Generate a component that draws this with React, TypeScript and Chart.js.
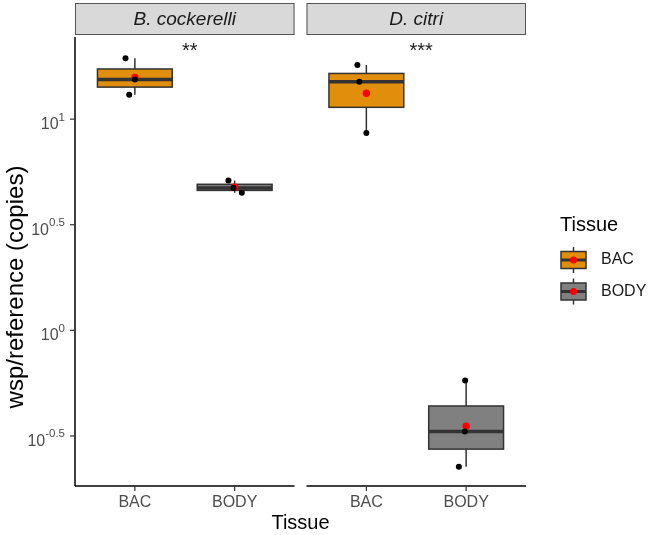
import React, { useEffect, useRef } from "react";
import { Chart, registerables } from "chart.js";

Chart.register(...registerables);

// ---- data ----
const panels = ["B. cockerelli", "D. citri"];
const tissues = ["BAC", "BODY"];
const stars = ["**", "***"];
// wsp/reference copies, one value per replicate
const bcBAC = [19.4, 15.4, 13.06];
const bcBODY = [5.12, 4.72, 4.48];
const dcBAC = [18.03, 15.03, 8.61];
const dcBODY = [0.579, 0.332, 0.226];
// horizontal jitter of the replicate points (category units)
const bcBACJitter = [-0.094, 0.0, -0.057];
const bcBODYJitter = [-0.062, -0.012, 0.072];
const dcBACJitter = [-0.09, -0.07, 0.0];
const dcBODYJitter = [-0.01, -0.013, -0.073];
// y tick exponents (10^e)
const yTickExponents = ["-0.5", "0", "0.5", "1"];
const tissueFills = ["#E08E0B", "#808080"];
const starLevel = 22.2;

const FONT = '"Liberation Sans", Arial, Helvetica, sans-serif';
const panelOffset = [0, 2.32];
const groups = [
  { panel: 0, tissue: 0, values: bcBAC, jitter: bcBACJitter },
  { panel: 0, tissue: 1, values: bcBODY, jitter: bcBODYJitter },
  { panel: 1, tissue: 0, values: dcBAC, jitter: dcBACJitter },
  { panel: 1, tissue: 1, values: dcBODY, jitter: dcBODYJitter },
];

function quantile(sorted: number[], p: number) {
  const h = (sorted.length - 1) * p;
  const lo = Math.floor(h);
  const hi = Math.ceil(h);
  return sorted[lo] + (sorted[hi] - sorted[lo]) * (h - lo);
}

function boxStats(values: number[]) {
  const logs = values.map((v) => Math.log10(v)).sort((a, b) => a - b);
  const mean = logs.reduce((a, b) => a + b, 0) / logs.length;
  return {
    min: Math.pow(10, logs[0]),
    q1: Math.pow(10, quantile(logs, 0.25)),
    med: Math.pow(10, quantile(logs, 0.5)),
    q3: Math.pow(10, quantile(logs, 0.75)),
    max: Math.pow(10, logs[logs.length - 1]),
    mean: Math.pow(10, mean),
  };
}

const xPos = (panel: number, tissue: number) => panelOffset[panel] + tissue + 1;

const facetPlugin = {
  id: "facets",
  beforeDatasetsDraw(chart: any) {
    const ctx: CanvasRenderingContext2D = chart.ctx;
    const xs = chart.scales.x;
    const ys = chart.scales.y;
    const area = chart.chartArea;
    const px = (v: number) => xs.getPixelForValue(v);
    const py = (v: number) => ys.getPixelForValue(v);
    ctx.save();

    // strips
    panels.forEach((name, p) => {
      const l = px(panelOffset[p] + 0.4);
      const r = px(panelOffset[p] + 2.6);
      ctx.fillStyle = "#D9D9D9";
      ctx.fillRect(l, 3, r - l, 32);
      ctx.strokeStyle = "#555555";
      ctx.lineWidth = 1;
      ctx.strokeRect(l + 0.5, 3.5, r - l - 1, 31);
      ctx.fillStyle = "#1A1A1A";
      ctx.font = `italic 19px ${FONT}`;
      ctx.textAlign = "center";
      ctx.textBaseline = "middle";
      ctx.fillText(name, (l + r) / 2, 20);

      // x axis line
      ctx.strokeStyle = "#000000";
      ctx.lineWidth = 1.5;
      ctx.beginPath();
      ctx.moveTo(l, area.bottom);
      ctx.lineTo(r, area.bottom);
      ctx.stroke();
      tissues.forEach((t, ti) => {
        const x = px(xPos(p, ti));
        ctx.strokeStyle = "#333333";
        ctx.lineWidth = 1.2;
        ctx.beginPath();
        ctx.moveTo(x, area.bottom);
        ctx.lineTo(x, area.bottom + 5);
        ctx.stroke();
        ctx.fillStyle = "#4D4D4D";
        ctx.font = `16px ${FONT}`;
        ctx.textAlign = "center";
        ctx.textBaseline = "middle";
        ctx.fillText(t, x, 503);
      });

      // significance
      ctx.fillStyle = "#222222";
      ctx.font = `20px ${FONT}`;
      ctx.textAlign = "center";
      ctx.textBaseline = "alphabetic";
      ctx.fillText(stars[p], px(panelOffset[p] + 1.55), py(starLevel) + 11);
    });

    // y axis
    ctx.strokeStyle = "#000000";
    ctx.lineWidth = 1.5;
    ctx.beginPath();
    ctx.moveTo(area.left, area.top);
    ctx.lineTo(area.left, area.bottom);
    ctx.stroke();
    yTickExponents.forEach((e) => {
      const y = py(Math.pow(10, parseFloat(e)));
      ctx.strokeStyle = "#333333";
      ctx.lineWidth = 1.2;
      ctx.beginPath();
      ctx.moveTo(area.left - 5, y);
      ctx.lineTo(area.left, y);
      ctx.stroke();
      ctx.fillStyle = "#4D4D4D";
      ctx.textBaseline = "alphabetic";
      ctx.textAlign = "left";
      ctx.font = `11.5px ${FONT}`;
      const wE = ctx.measureText(e).width;
      ctx.font = `16px ${FONT}`;
      const wB = ctx.measureText("10").width;
      const right = area.left - 10;
      ctx.fillText("10", right - wE - wB, y + 10);
      ctx.font = `11.5px ${FONT}`;
      ctx.fillText(e, right - wE, y + 1.5);
    });

    // axis titles
    ctx.fillStyle = "#000000";
    ctx.font = `20px ${FONT}`;
    ctx.textAlign = "center";
    ctx.textBaseline = "middle";
    ctx.fillText("Tissue", (px(0.4) + px(panelOffset[1] + 2.6)) / 2, 523);
    ctx.save();
    ctx.font = `24px ${FONT}`;
    ctx.translate(16, 287);
    ctx.rotate(-Math.PI / 2);
    ctx.fillText("wsp/reference (copies)", 0, 0);
    ctx.restore();

    // boxplots
    groups.forEach((g) => {
      const s = boxStats(g.values);
      const cx = px(xPos(g.panel, g.tissue));
      const hw = px(1.375) - px(1);
      ctx.strokeStyle = "#333333";
      ctx.lineWidth = 1.5;
      ctx.beginPath();
      ctx.moveTo(cx, py(s.max));
      ctx.lineTo(cx, py(s.q3));
      ctx.moveTo(cx, py(s.q1));
      ctx.lineTo(cx, py(s.min));
      ctx.stroke();
      const top = py(s.q3);
      const bot = py(s.q1);
      ctx.fillStyle = tissueFills[g.tissue];
      ctx.fillRect(cx - hw, top, 2 * hw, bot - top);
      ctx.strokeRect(cx - hw, top, 2 * hw, bot - top);
      ctx.lineWidth = 3.5;
      ctx.beginPath();
      ctx.moveTo(cx - hw, py(s.med));
      ctx.lineTo(cx + hw, py(s.med));
      ctx.stroke();
    });

    // legend
    ctx.fillStyle = "#000000";
    ctx.font = `20px ${FONT}`;
    ctx.textAlign = "left";
    ctx.textBaseline = "alphabetic";
    ctx.fillText("Tissue", 560, 231);
    const centers = [260, 291.5];
    tissues.forEach((t, ti) => {
      const cy = centers[ti];
      const l = 561;
      const r = 586;
      const mid = (l + r) / 2;
      ctx.strokeStyle = "#333333";
      ctx.lineWidth = 1.5;
      ctx.beginPath();
      ctx.moveTo(mid, cy - 13);
      ctx.lineTo(mid, cy + 13);
      ctx.stroke();
      ctx.fillStyle = tissueFills[ti];
      ctx.fillRect(l, cy - 8.5, r - l, 17);
      ctx.strokeRect(l, cy - 8.5, r - l, 17);
      ctx.lineWidth = 3;
      ctx.beginPath();
      ctx.moveTo(l, cy);
      ctx.lineTo(r, cy);
      ctx.stroke();
      ctx.fillStyle = "#FF0000";
      ctx.beginPath();
      ctx.arc(mid, cy, 3.5, 0, Math.PI * 2);
      ctx.fill();
      ctx.fillStyle = "#1A1A1A";
      ctx.font = `16px ${FONT}`;
      ctx.textBaseline = "middle";
      ctx.fillText(t, 601, cy);
    });
    ctx.restore();
  },
};

export default function App() {
  const ref = useRef<HTMLCanvasElement>(null);
  useEffect(() => {
    document.body.style.margin = "0";
    const canvas = ref.current!;
    const pointData: { x: number; y: number }[] = [];
    const meanData: { x: number; y: number }[] = [];
    groups.forEach((g) => {
      g.values.forEach((v, i) => {
        pointData.push({ x: xPos(g.panel, g.tissue) + g.jitter[i], y: v });
      });
      meanData.push({ x: xPos(g.panel, g.tissue), y: boxStats(g.values).mean });
    });
    const chart = new Chart(canvas, {
      type: "scatter",
      data: {
        datasets: [
          {
            label: "replicates",
            data: pointData,
            pointRadius: 3,
            pointBackgroundColor: "#000000",
            pointBorderWidth: 0,
            clip: false as any,
          },
          {
            label: "mean",
            data: meanData,
            pointRadius: 3.7,
            pointBackgroundColor: "#FF0000",
            pointBorderWidth: 0,
            clip: false as any,
          },
        ],
      },
      options: {
        animation: false,
        responsive: false,
        layout: { padding: { left: 75, top: 37, right: 124, bottom: 49 } },
        scales: {
          x: { type: "linear", display: false, min: 0.4, max: 4.92 },
          y: {
            type: "logarithmic",
            display: false,
            min: Math.pow(10, -0.737),
            max: Math.pow(10, 1.389),
          },
        },
        plugins: { legend: { display: false }, tooltip: { enabled: false } },
      },
      plugins: [facetPlugin],
    });
    return () => chart.destroy();
  }, []);
  return <canvas ref={ref} width={650} height={535} style={{ display: "block" }} />;
}
